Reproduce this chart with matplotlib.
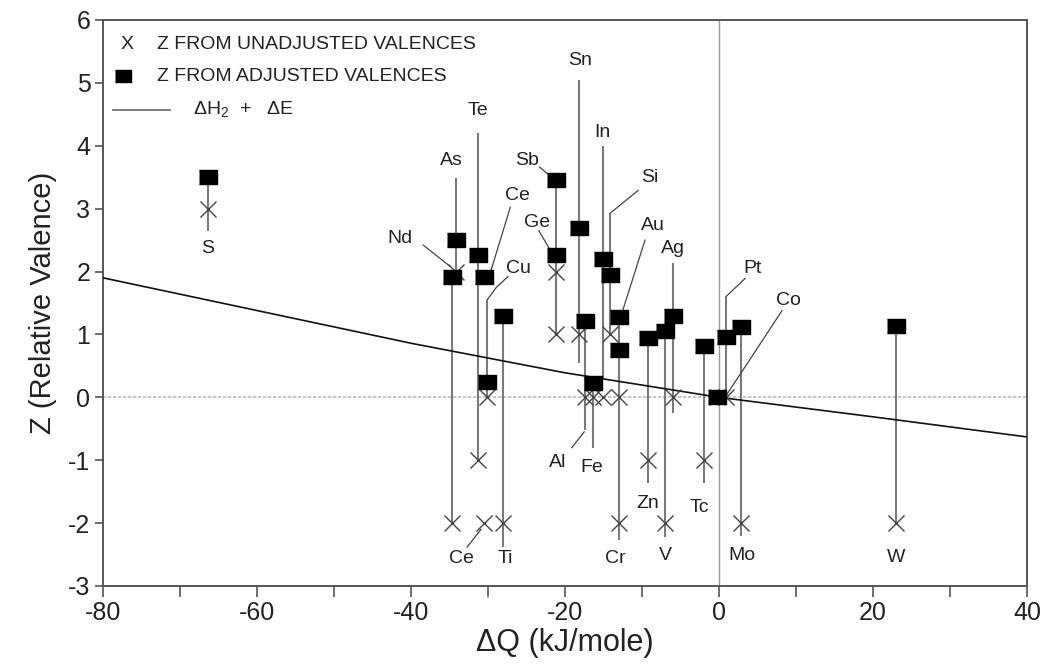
import matplotlib
matplotlib.use("Agg")
import matplotlib.pyplot as plt
from matplotlib.lines import Line2D

plt.rcParams["font.family"] = ["Liberation Sans", "DejaVu Sans"]
plt.rcParams["mathtext.fontset"] = "custom"
plt.rcParams["mathtext.rm"] = "Liberation Sans"
plt.rcParams["mathtext.it"] = "Liberation Sans:italic"
plt.rcParams["axes.unicode_minus"] = False

# ---- data -------------------------------------------------------------
elements = ["S", "Nd", "As", "Te", "Ce", "Cu", "Ti", "Sb", "Ge", "Sn", "Al", "Fe",
            "In", "Si", "Au", "Cr", "Zn", "V", "Ag", "Tc", "Co", "Pt", "Mo", "W"]
dq = [-66.3, -34.7, -34.2, -31.3, -30.5, -30.1, -28.0, -21.2, -21.2, -18.2, -17.4, -16.3,
      -15.1, -14.2, -13.0, -13.0, -9.2, -7.0, -6.0, -2.0, -0.2, 0.9, 2.9, 23.0]
z_unadjusted = [3.0, -2.0, 2.0, -1.0, -2.0, 0.0, -2.0, 2.0, 1.0, 1.0, 0.0, 0.0,
                0.0, 1.0, 0.0, -2.0, -1.0, -2.0, 0.0, -1.0, 0.0, 0.0, -2.0, -2.0]
z_adjusted = [3.5, 1.92, 2.5, 2.26, 1.92, 0.25, 1.3, 3.45, 2.27, 2.7, 1.22, 0.22,
              2.2, 1.94, 1.27, 0.76, 0.95, 1.06, 1.29, 0.81, 0.0, 0.96, 1.12, 1.13]
stem_top = [3.5, 1.92, 3.48, 4.2, 1.92, 1.55, 1.3, 3.45, 2.27, 5.04, 1.22, 0.22,
            4.0, 2.92, 1.27, 0.76, 0.95, 1.06, 2.13, 0.81, 0.0, 1.6, 1.12, 1.13]
stem_bottom = [2.65, -2.0, 2.0, -1.0, 1.92, 0.0, -2.38, 1.0, 1.0, 0.54, -0.52, -0.8,
               0.3, 1.0, 0.0, -2.27, -1.37, -2.22, -0.25, -1.37, 0.0, 0.0, -2.2, -2.0]

# Delta H2 + Delta E curve
curve_dq = [-80, -60, -40, -20, 0, 20, 40]
curve_z = [1.90, 1.38, 0.86, 0.39, 0.0, -0.31, -0.63]

x_ticks = [-80, -60, -40, -20, 0, 20, 40]
y_ticks = [-3, -2, -1, 0, 1, 2, 3, 4, 5, 6]

# ---- label layout: (text, x, y, leader path or None) ------------------
labels = [
    ("S", -66.4, 2.37, None),
    ("Nd", -41.4, 2.53, [(-38.4, 2.42), (-34.9, 2.08)]),
    ("As", -34.7, 3.77, None),
    ("Te", -31.3, 4.56, None),
    ("Ce", -26.2, 3.21, [(-27.1, 3.02), (-29.6, 2.02)]),
    ("Cu", -26.1, 2.05, [(-27.4, 1.92), (-28.9, 1.75), (-30.1, 1.55)]),
    ("Sb", -24.9, 3.77, [(-23.3, 3.66), (-22.0, 3.53)]),
    ("Ge", -23.6, 2.78, [(-23.4, 2.65), (-22.0, 2.36)]),
    ("Sn", -18.1, 5.36, None),
    ("In", -15.1, 4.21, None),
    ("Si", -9.0, 3.50, [(-10.5, 3.29), (-14.2, 2.92)]),
    ("Au", -8.6, 2.73, [(-9.6, 2.50), (-12.5, 1.38)]),
    ("Ag", -6.0, 2.37, None),
    ("Pt", 4.4, 2.05, [(3.4, 1.89), (0.9, 1.6)]),
    ("Co", 9.0, 1.54, [(8.2, 1.38), (1.0, 0.04)]),
    ("Al", -21.0, -1.03, [(-19.1, -0.80), (-17.5, -0.55)]),
    ("Fe", -16.5, -1.11, None),
    ("Zn", -9.2, -1.69, None),
    ("Tc", -2.5, -1.75, None),
    ("Ce", -33.4, -2.56, [(-32.7, -2.38), (-30.9, -2.10)]),
    ("Ti", -27.8, -2.56, None),
    ("Cr", -13.5, -2.56, None),
    ("V", -7.0, -2.51, None),
    ("Mo", 3.0, -2.51, None),
    ("W", 23.0, -2.54, None),
]

# ---- figure -----------------------------------------------------------
fig = plt.figure(figsize=(10.55, 6.64), dpi=100)
ax = fig.add_axes([0.0976, 0.1175, 0.8758, 0.8524])

spine_color = "#555555"
for s in ax.spines.values():
    s.set_color(spine_color)
    s.set_linewidth(1.4)

ax.set_xlim(-80, 40)
ax.set_ylim(-3, 6)

# reference lines
ax.axhline(0, color="#bbbbbb", lw=1.2, ls=(0, (2, 1)), zorder=1)
ax.axvline(0, color="#999999", lw=1.0, zorder=1)

# stems
for x, t, b in zip(dq, stem_top, stem_bottom):
    if t != b:
        ax.plot([x, x], [b, t], color="#7a7a7a", lw=1.5, zorder=2,
                solid_capstyle="butt")

# curve
ax.plot(curve_dq, curve_z, color="#111111", lw=1.2, zorder=3)

# markers
rect = [(-1, -0.72), (1, -0.72), (1, 0.72), (-1, 0.72)]
ax.plot(dq, z_unadjusted, ls="none", marker="x", ms=11, mew=1.0,
        color="#444444", zorder=4)
ax.plot(dq, z_adjusted, ls="none", marker=rect, ms=13.5,
        color="black", zorder=5)

# element labels
for text, x, y, path in labels:
    ax.text(x, y, text, ha="center", va="center", fontsize=14, color="#222222",
            zorder=6)
    if path:
        ax.plot([p[0] for p in path], [p[1] for p in path], color="#444444",
                lw=0.9, zorder=3)

# legend drawn in axes coordinates
tr = ax.transAxes
leg_fs = 14
ax.text(0.026, 0.956, "X", transform=tr, ha="center", va="center",
        fontsize=leg_fs, color="#222222")
ax.text(0.058, 0.956, "Z FROM UNADJUSTED VALENCES", transform=tr, ha="left",
        va="center", fontsize=leg_fs, color="#222222")
ax.add_line(Line2D([0.0216], [0.901], transform=tr, marker=rect, ms=11.5,
                   color="black", ls="none"))
ax.text(0.058, 0.901, "Z FROM ADJUSTED VALENCES", transform=tr, ha="left",
        va="center", fontsize=leg_fs, color="#222222")
ax.add_line(Line2D([0.011, 0.0725], [0.841, 0.841], transform=tr,
                   color="#666666", lw=1.2))
ax.text(0.097, 0.842, "ΔH$_2$  +   ΔE", transform=tr, ha="left", va="center",
        fontsize=leg_fs, color="#222222")

# ticks and axis labels
ax.set_xticks(x_ticks)
ax.set_xticks(range(-70, 40, 20), minor=True)
ax.set_yticks(y_ticks)
ax.tick_params(axis="both", which="both", direction="out", color=spine_color,
               width=1.2, labelsize=18, labelcolor="#222222")
ax.tick_params(axis="x", which="both", length=8, pad=3)
ax.tick_params(axis="y", which="both", length=6, pad=3)

ax.set_xlabel("ΔQ (kJ/mole)", fontsize=22, color="#222222", labelpad=2)
ax.set_ylabel("Z (Relative Valence)", fontsize=21, color="#222222", labelpad=8)

fig.savefig("out.png", dpi=100, facecolor="white")
